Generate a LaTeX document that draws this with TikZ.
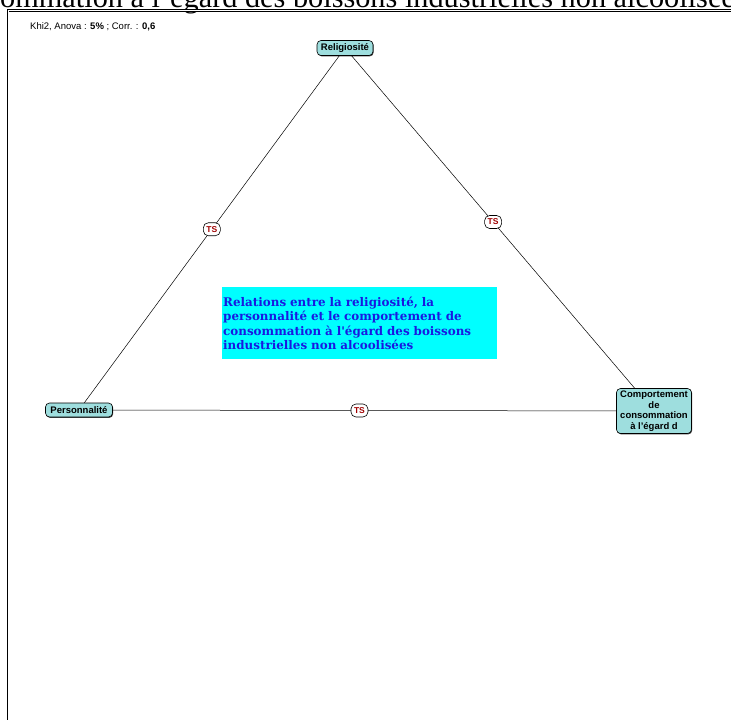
\documentclass[tikz,border=0pt]{standalone}
\usepackage{fontspec}
\setmainfont{Liberation Serif}
\setsansfont{Liberation Sans}
\newfontfamily\boxfont{DejaVu Serif}
\usetikzlibrary{shadows}
\definecolor{nodefill}{RGB}{158,222,222}
\definecolor{tsred}{RGB}{160,0,0}
\definecolor{boxblue}{RGB}{25,25,225}
\definecolor{boxcyan}{RGB}{0,255,255}
\tikzset{
  concept/.style={draw=black, line width=0.6pt, fill=nodefill, rounded corners=4pt,
    font=\sffamily\bfseries\fontsize{9.5}{10.5}\selectfont, align=center,
    inner xsep=1.5pt, inner ysep=1.5pt,
    drop shadow={shadow xshift=0.7pt, shadow yshift=-0.9pt, fill=black!75, opacity=1}},
  tslabel/.style={draw=black, line width=0.6pt, fill=white, rounded corners=5pt,
    text=tsred, font=\sffamily\bfseries\fontsize{8.5}{9}\selectfont,
    minimum width=17pt, minimum height=13pt, inner sep=0pt},
  link/.style={draw=black, line width=0.5pt}
}
\begin{document}
\begin{tikzpicture}[x=1pt,y=-1pt]
\useasboundingbox (0,0) rectangle (731,720);
\begin{scope}
\clip (0,0) rectangle (731,720);
\node[anchor=base west, inner sep=0pt, font=\fontsize{30.3}{32}\selectfont] (title) at (0,7) {ommation à l'égard des boissons industrielles non alcoolisées};
\draw[double, double distance=1pt, line width=0.6pt] (8,10.5) rectangle (780,780);
\end{scope}
\node[anchor=west, inner sep=0pt, font=\sffamily\fontsize{9.5}{10}\selectfont] (stats) at (30,27) {Khi2, Anova : \textbf{5\%} ; Corr. : \textbf{0,6}};
\node[concept, minimum width=56pt, minimum height=15pt] (rel) at (345,48) {Religiosité};
\node[concept, minimum width=67pt, minimum height=14pt] (pers) at (79,410) {Personnalité};
\node[concept, minimum width=75pt, minimum height=45pt] (comp) at (654,411) {Comportement\\de\\consommation\\à l'égard d};
\draw[link] (rel) -- node[tslabel, pos=0.5] (ts1) {TS} (pers);
\draw[link] (rel) -- node[tslabel, pos=0.5] (ts2) {TS} (comp);
\draw[link] (pers) -- node[tslabel, pos=0.49] (ts3) {TS} (comp);
\node[anchor=north west, fill=boxcyan, minimum width=275pt, minimum height=72pt,
  text width=273pt, inner xsep=1pt, inner ysep=0pt, align=left, text=boxblue,
  font=\boxfont\bfseries\fontsize{11.9}{14.4}\selectfont] (info) at (222,287)
  {Relations entre la religiosité, la\\personnalité et le comportement de\\consommation à l'égard des boissons\\industrielles non alcoolisées};
\end{tikzpicture}
\end{document}
